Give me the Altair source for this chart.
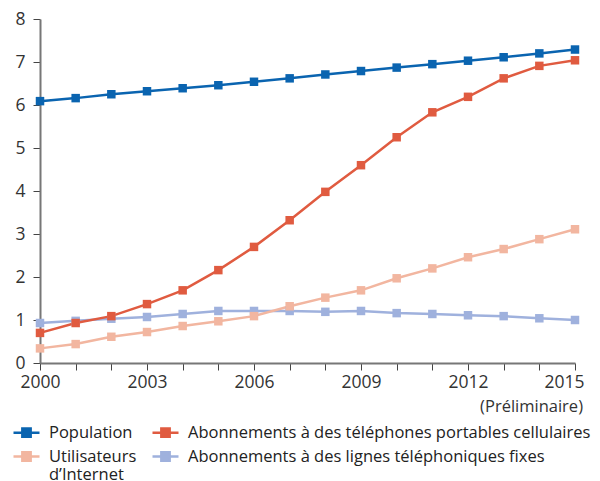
import altair as alt
import pandas as pd

FONT = "Open Sans"

years = list(range(2000, 2016))
population = [6.09, 6.16, 6.25, 6.32, 6.39, 6.46, 6.54, 6.62, 6.71, 6.79, 6.87, 6.95, 7.03, 7.11, 7.20, 7.29]
mobile = [0.70, 0.93, 1.09, 1.37, 1.69, 2.16, 2.70, 3.32, 3.98, 4.60, 5.25, 5.83, 6.19, 6.62, 6.91, 7.04]
internet = [0.34, 0.44, 0.61, 0.72, 0.86, 0.97, 1.09, 1.32, 1.52, 1.69, 1.97, 2.20, 2.46, 2.65, 2.88, 3.11]
fixed = [0.93, 0.98, 1.03, 1.07, 1.14, 1.21, 1.21, 1.21, 1.19, 1.21, 1.16, 1.14, 1.11, 1.09, 1.04, 1.00]

n_pop = "Population"
n_mob = "Abonnements à des téléphones portables cellulaires"
n_int = "Utilisateurs d’Internet"
n_fix = "Abonnements à des lignes téléphoniques fixes"

# legend order (column-major): Population, Internet | Mobile, Fixed
names = [n_pop, n_int, n_mob, n_fix]
colors = ["#0a64b0", "#f2b6a0", "#e05b40", "#9fb1dd"]

rows = []
for name, vals in [(n_fix, fixed), (n_int, internet), (n_mob, mobile), (n_pop, population)]:
    for yr, v in zip(years, vals):
        rows.append({"year": yr, "value": v, "series": name})
df = pd.DataFrame(rows)

note = pd.DataFrame({"year": [2015], "value": [0], "label": ["(Préliminaire)"]})

legend = alt.Legend(
    title=None, orient="none", legendX=-28, legendY=399, columns=2,
    columnPadding=10, rowPadding=0, padding=0,
    symbolType="M-1,0H1M-0.32,-0.32H0.32V0.32H-0.32Z",
    symbolSize=676, symbolStrokeWidth=2.5,
    labelFont=FONT, labelFontSize=16.5, labelColor="#222", labelOffset=8, labelLimit=500,
    labelExpr="datum.label == 'Utilisateurs d’Internet' ? ['Utilisateurs', 'd’Internet'] : datum.label",
)

x = alt.X(
    "year:Q",
    scale=alt.Scale(domain=[2000, 2015], nice=False, zero=False),
    axis=alt.Axis(
        values=years, title=None, grid=False, labelOverlap=False, labelFlush=False,
        labelExpr="(datum.value - 2000) % 3 == 0 ? toString(datum.value) : ''",
        labelPadding=3,
        labelOffset={"condition": {"test": "datum.value == 2015", "value": -11}, "value": 0},
    ),
)
y = alt.Y(
    "value:Q",
    scale=alt.Scale(domain=[0, 8], nice=False),
    axis=alt.Axis(values=list(range(0, 9)), title=None, grid=False, labelPadding=8, labelFlush=False),
)

lines = alt.Chart(df).mark_line(
    strokeWidth=2.5,
    point=alt.OverlayMarkDef(shape="square", size=72, filled=True),
).encode(
    x=x, y=y,
    color=alt.Color("series:N", scale=alt.Scale(domain=names, range=colors), legend=legend),
    order=alt.Order("year:Q"),
)

text = alt.Chart(note).mark_text(
    align="right", baseline="middle", dx=8, dy=44, fontSize=16.5, font=FONT, color="#333"
).encode(x=x, y=y, text="label:N")

chart = alt.layer(lines, text).properties(
    width=535, height=344,
    autosize=alt.AutoSizeParams(type="none"),
    padding={"left": 32, "top": 11, "right": 17, "bottom": 118},
).configure_view(stroke=None).configure_axis(
    domainColor="#777", domainWidth=2, tickColor="#444", tickWidth=1, tickSize=7,
    labelFont=FONT, labelFontSize=17.5, labelColor="#333",
).configure_axisX(labelOverlap=False)

chart.save("out.html", embed_options={"renderer": "svg", "actions": False})
